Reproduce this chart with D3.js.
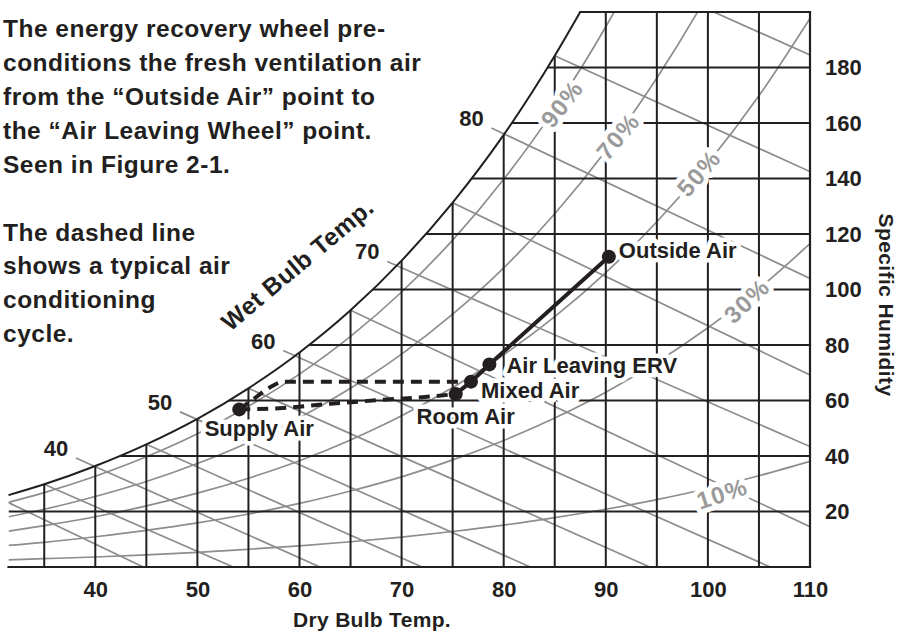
<!DOCTYPE html>
<html><head><meta charset="utf-8">
<script src="https://cdn.jsdelivr.net/npm/d3@7"></script>
<style>
html,body{margin:0;padding:0;background:#fff;}
svg{display:block;font-family:"Liberation Sans",Arial,Helvetica,sans-serif;}
</style></head><body>
<svg id="chart" width="900" height="635"></svg>
<script>
// ---------------- DATA ----------------
const xTicks = [40, 50, 60, 70, 80, 90, 100, 110];
const yTicks = [20, 40, 60, 80, 100, 120, 140, 160, 180];
const gridTemps = [35, 40, 45, 50, 55, 60, 65, 70, 75, 80, 85, 90, 95, 100, 105];
const gridHumidity = [20, 40, 60, 80, 100, 120, 140, 160, 180];

// saturation curve (dry bulb °F, grains/lb)
const satTemps    = [31.5, 35, 40, 45, 50, 55, 60, 65, 70, 75, 80, 85, 87.5];
const satHumidity = [25.9, 29.8, 36.4, 44.2, 53.4, 64.4, 77.3, 92.5, 110.4, 131.3, 155.7, 184.2, 200];

// relative humidity curves
const rhTemps = [31.5, 35, 40, 45, 50, 55, 60, 65, 70, 75, 80, 85, 90, 95, 100, 105, 110];
const rh10 = [2.6, 3.0, 3.6, 4.4, 5.3, 6.4, 7.6, 9.1, 10.8, 12.8, 15.1, 17.8, 20.8, 24.3, 28.3, 32.9, 38.1];
const rh30 = [7.8, 8.9, 10.9, 13.2, 15.9, 19.1, 22.9, 27.4, 32.5, 38.6, 45.6, 53.7, 63.0, 73.8, 86.2, 100.3, 116.5];
const rh50 = [12.9, 14.9, 18.1, 22.0, 26.6, 32.0, 38.3, 45.8, 54.5, 64.7, 76.5, 90.2, 106.1, 124.4, 145.5, 169.8, 197.7];
const rh70 = [18.1, 20.8, 25.4, 30.8, 37.3, 44.9, 53.8, 64.4, 76.7, 91.1, 107.8, 127.3, 150.0, 176.2, 206.5, 241.5, 281.8];
const rh90 = [23.3, 26.8, 32.7, 39.7, 48.0, 57.9, 69.5, 83.1, 99.1, 117.8, 139.7, 165.1, 194.7, 229.1, 269.1, 315.5, 369.2];
const rhLabels = ["10%", "30%", "50%", "70%", "90%"];
const rhLabelTemps = [101.4, 103.8, 99.1, 91.2, 85.7];
const rhLabelHumidity = [26.5, 96.0, 142.0, 155.3, 167.0];
const rhLabelAngles = [-18, -44, -49, -50, -52];

// wet bulb lines
const wbTemps  = [30, 35, 40, 45, 50, 55, 60, 65, 70, 75, 80, 85, 90];
const wbStartT = [31.5, 35, 38.1, 45, 48.3, 55, 58.4, 65, 68.6, 75, 78.8, 85, 90];
const wbStartW = [23.2, 29.8, 39.3, 44.2, 55.9, 64.4, 78.0, 92.5, 110.1, 131.3, 158.2, 184.2, 217.4];
const wbEndT   = [44.7, 53.5, 62.0, 72.0, 82.6, 94.3, 106.1, 110, 110, 110, 110, 110, 110];
const wbEndW   = [0, 0, 0, 0, 0, 0, 0, 14.5, 43.4, 69.2, 104, 142.5, 184.5];
const wbLabelTemps = [40, 50, 60, 70, 80];

// process points
const pointNames    = ["Outside Air", "Air Leaving ERV", "Mixed Air", "Room Air", "Supply Air"];
const pointTemps    = [90.3, 78.6, 76.8, 75.3, 54.1];
const pointHumidity = [111.8, 73.0, 66.8, 62.3, 56.8];

// dashed air-conditioning cycle
const coolingTemps    = [54.1, 55.5, 57.0, 58.5, 76.8];
const coolingHumidity = [56.8, 60.5, 64.5, 66.8, 66.8];
const heatingTemps    = [54.1, 58, 63, 68, 72, 75.3];
const heatingHumidity = [56.8, 57.2, 58.8, 60.2, 61.2, 62.3];

const para1 = ["The energy recovery wheel pre-", "conditions the fresh ventilation air",
  "from the \u201COutside Air\u201D point to", "the \u201CAir Leaving Wheel\u201D point.", "Seen in Figure 2-1."];
const para2 = ["The dashed line", "shows a typical air", "conditioning", "cycle."];

// ---------------- STYLE ----------------
const INK = "#231f20", GRAY = "#8d8d8d", GRAYTXT = "#9a9a9a";
const labelStyle = {
  "Outside Air":     {dx: 10, dy: 1,  anchor: "start"},
  "Air Leaving ERV": {dx: 17, dy: 9,  anchor: "start"},
  "Mixed Air":       {dx: 10, dy: 16, anchor: "start"},
  "Room Air":        {dx: 10, dy: 30, anchor: "middle"},
  "Supply Air":      {dx: 20, dy: 27, anchor: "middle"}
};

// ---------------- DRAW ----------------
const svg = d3.select("#chart");
const x = d3.scaleLinear().domain([31.5, 110]).range([8.5, 810]);
const y = d3.scaleLinear().domain([0, 200]).range([567, 12]);
const zip = (a, b) => a.map((v, i) => [v, b[i]]);
const line = d3.line().x(d => x(d[0])).y(d => y(d[1])).curve(d3.curveMonotoneX);
const straight = d3.line().x(d => x(d[0])).y(d => y(d[1]));

const sat = zip(satTemps, satHumidity);
const xMin = x.domain()[0], xMax = x.domain()[1], yMax = y.domain()[1];

const defs = svg.append("defs");
defs.append("clipPath").attr("id", "psy").append("path")
  .attr("d", line(sat) + `L${x(xMax)},${y(yMax)}L${x(xMax)},${y(0)}L${x(xMin)},${y(0)}Z`);
defs.append("clipPath").attr("id", "box").append("rect")
  .attr("x", x(xMin)).attr("y", y(yMax)).attr("width", x(xMax) - x(xMin)).attr("height", y(0) - y(yMax));

// paragraphs
const para = svg.append("g").attr("font-size", 24.5).attr("font-weight", "bold")
  .attr("fill", INK).attr("letter-spacing", 0.5);
para1.forEach((t, i) => para.append("text").attr("x", 3).attr("y", 37 + i * 34.1).text(t));
para2.forEach((t, i) => para.append("text").attr("x", 3).attr("y", 240.5 + i * 33.8).text(t));

// wet bulb lines
const wbG = svg.append("g").attr("clip-path", "url(#box)");
wbTemps.forEach((t, i) => {
  wbG.append("path").attr("d", straight([[wbStartT[i], wbStartW[i]], [wbEndT[i], wbEndW[i]]]))
    .attr("fill", "none").attr("stroke", GRAY).attr("stroke-width", 1.7);
});

// RH curves
const rhG = svg.append("g").attr("clip-path", "url(#psy)");
[rh10, rh30, rh50, rh70, rh90].forEach(arr => {
  rhG.append("path").attr("d", line(zip(rhTemps, arr)))
    .attr("fill", "none").attr("stroke", GRAY).attr("stroke-width", 1.7);
});

// grid
const gridG = svg.append("g").attr("clip-path", "url(#psy)").attr("stroke", INK).attr("stroke-width", 2);
gridTemps.forEach(t => gridG.append("line").attr("x1", x(t)).attr("x2", x(t)).attr("y1", y(0)).attr("y2", y(yMax)));
gridHumidity.forEach(w => gridG.append("line").attr("x1", x(xMin)).attr("x2", x(xMax)).attr("y1", y(w)).attr("y2", y(w)));

// saturation curve and frame
svg.append("path").attr("d", line(sat)).attr("fill", "none").attr("stroke", INK).attr("stroke-width", 2);
const frame = svg.append("g").attr("stroke", INK).attr("stroke-width", 2.2).attr("stroke-linecap", "square");
frame.append("line").attr("x1", x(xMin)).attr("x2", x(xMax)).attr("y1", y(0)).attr("y2", y(0));
frame.append("line").attr("x1", x(xMax)).attr("x2", x(xMax)).attr("y1", y(0)).attr("y2", y(yMax));
frame.append("line").attr("x1", x(satTemps[satTemps.length - 1])).attr("x2", x(xMax)).attr("y1", y(yMax)).attr("y2", y(yMax));

// wet bulb labels
const wbl = svg.append("g").attr("font-size", 22).attr("font-weight", "bold").attr("fill", INK).attr("text-anchor", "middle");
wbLabelTemps.forEach(t => {
  const i = wbTemps.indexOf(t);
  wbl.append("text").attr("x", x(wbStartT[i]) - 20).attr("y", y(wbStartW[i]) - 10 + 8).text(t);
});
svg.append("text").attr("transform", "translate(303,271) rotate(-40)")
  .attr("text-anchor", "middle").attr("font-size", 24.5).attr("font-weight", "bold")
  .attr("letter-spacing", 0.5).attr("fill", INK).text("Wet Bulb Temp.");

// RH labels with white knock-out
const rhl = svg.append("g").attr("font-size", 24).attr("font-weight", "bold").attr("fill", GRAYTXT)
  .attr("text-anchor", "middle").attr("letter-spacing", 1.5)
  .attr("stroke", "#fff").attr("stroke-width", 10).attr("stroke-linejoin", "round").attr("paint-order", "stroke");
rhLabels.forEach((t, i) => {
  rhl.append("text")
    .attr("transform", `translate(${x(rhLabelTemps[i])},${y(rhLabelHumidity[i])}) rotate(${rhLabelAngles[i]})`)
    .attr("dy", "0.36em").text(t);
});

// point labels
const pl = svg.append("g").attr("font-size", 22).attr("font-weight", "bold").attr("fill", INK)
  .attr("stroke", "#fff").attr("stroke-width", 9).attr("stroke-linejoin", "round").attr("paint-order", "stroke");
pointNames.forEach((n, i) => {
  const s = labelStyle[n];
  pl.append("text").attr("x", x(pointTemps[i]) + s.dx).attr("y", y(pointHumidity[i]) + s.dy)
    .attr("text-anchor", s.anchor).text(n);
});

// dashed cycle
const dashed = svg.append("g").attr("fill", "none").attr("stroke", INK).attr("stroke-width", 4)
  .attr("stroke-dasharray", "11,7");
dashed.append("path").attr("d", line(zip(coolingTemps, coolingHumidity)));
dashed.append("path").attr("d", line(zip(heatingTemps, heatingHumidity)));

// solid ERV line (Room Air -> Mixed Air -> Air Leaving ERV -> Outside Air)
const solidPts = [3, 2, 1, 0].map(i => [pointTemps[i], pointHumidity[i]]);
svg.append("path").attr("d", straight(solidPts)).attr("fill", "none").attr("stroke", INK).attr("stroke-width", 4);

// dots
svg.append("g").selectAll("circle").data(zip(pointTemps, pointHumidity)).join("circle")
  .attr("cx", d => x(d[0])).attr("cy", d => y(d[1])).attr("r", 7).attr("fill", INK);

// axes
const ax = svg.append("g").attr("transform", `translate(0,${y(0)})`)
  .call(d3.axisBottom(x).tickValues(xTicks).tickSize(0).tickPadding(14));
ax.select(".domain").remove();
ax.selectAll("text").attr("font-size", 22).attr("font-weight", "bold").attr("fill", INK)
  .attr("font-family", "Liberation Sans, Arial, sans-serif");

const ay = svg.append("g").attr("transform", `translate(${x(xMax)},0)`)
  .call(d3.axisRight(y).tickValues(yTicks).tickSize(0).tickPadding(15));
ay.select(".domain").remove();
ay.selectAll("text").attr("font-size", 22).attr("font-weight", "bold").attr("fill", INK)
  .attr("font-family", "Liberation Sans, Arial, sans-serif");

// axis titles
svg.append("text").attr("x", 372).attr("y", 627).attr("text-anchor", "middle")
  .attr("font-size", 21).attr("font-weight", "bold").attr("fill", INK).attr("letter-spacing", 0.3)
  .text("Dry Bulb Temp.");
svg.append("text").attr("transform", "translate(879,305) rotate(90)").attr("text-anchor", "middle")
  .attr("font-size", 21).attr("font-weight", "bold").attr("fill", INK).attr("letter-spacing", 0.4)
  .text("Specific Humidity");
</script>
</body></html>
